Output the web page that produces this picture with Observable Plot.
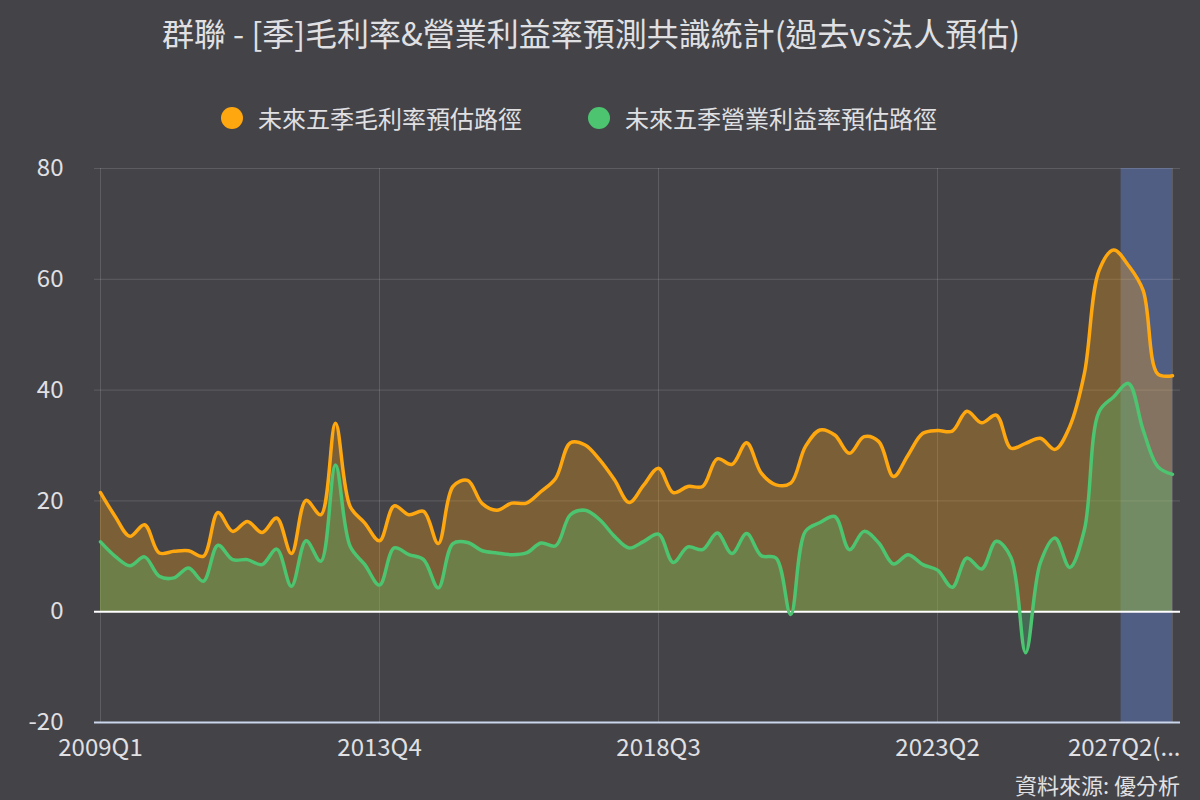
<!DOCTYPE html>
<html>
<head>
<meta charset="utf-8">
<script src="https://cdn.jsdelivr.net/npm/d3@7"></script>
<script src="https://cdn.jsdelivr.net/npm/@observablehq/plot@0.6"></script>
<style>
  html, body { margin: 0; padding: 0; }
  body { width: 1200px; height: 800px; background: #434348; position: relative; overflow: hidden;
         font-family: "Noto Sans CJK TC", "Noto Sans", sans-serif; color: #e0e0e3; }
  #title { position: absolute; top: 10px; left: 0; width: 1182px; text-align: center; font-size: 32px; line-height: 44px; }
  #legend { position: absolute; top: 100px; left: 221px; display: flex; align-items: center; font-size: 24px; line-height: 36px; }
  .item { display: flex; align-items: center; margin-right: 66px; }
  .dot { width: 22px; height: 22px; border-radius: 50%; margin-right: 15px; }
  #chart { position: absolute; top: 140px; left: 0; }
  #caption { position: absolute; top: 769px; right: 20px; font-size: 22px; line-height: 30px; }
</style>
</head>
<body>
<div id="title">群聯 - [季]毛利率&amp;營業利益率預測共識統計(過去vs法人預估)</div>
<div id="legend"></div>
<div id="chart"></div>
<div id="caption">資料來源: 優分析</div>
<script>
const quarters = [
  "2009Q1","2009Q2","2009Q3","2009Q4","2010Q1","2010Q2","2010Q3","2010Q4",
  "2011Q1","2011Q2","2011Q3","2011Q4","2012Q1","2012Q2","2012Q3","2012Q4",
  "2013Q1","2013Q2","2013Q3","2013Q4","2014Q1","2014Q2","2014Q3","2014Q4",
  "2015Q1","2015Q2","2015Q3","2015Q4","2016Q1","2016Q2","2016Q3","2016Q4",
  "2017Q1","2017Q2","2017Q3","2017Q4","2018Q1","2018Q2","2018Q3","2018Q4",
  "2019Q1","2019Q2","2019Q3","2019Q4","2020Q1","2020Q2","2020Q3","2020Q4",
  "2021Q1","2021Q2","2021Q3","2021Q4","2022Q1","2022Q2","2022Q3","2022Q4",
  "2023Q1","2023Q2","2023Q3","2023Q4","2024Q1","2024Q2","2024Q3","2024Q4",
  "2025Q1","2025Q2","2025Q3","2025Q4","2026Q1","2026Q2","2026Q3","2026Q4",
  "2027Q1","2027Q2"
];
const grossMargin = [
  21.5,17.2,13.6,15.7,10.6,10.9,11.0,10.0,17.9,14.5,16.3,14.3,16.9,10.5,20.1,17.5,
  34.0,19.0,16.0,12.8,19.1,17.5,18.1,12.3,22.6,23.7,19.5,18.3,19.6,19.6,21.7,24.1,
  30.5,30.1,27.4,23.8,19.7,22.9,25.9,21.5,22.6,22.6,27.6,26.6,30.5,25.0,22.9,23.2,
  29.8,32.8,31.9,28.6,31.6,30.7,24.4,28.3,32.2,32.7,32.6,36.2,34.1,35.5,29.5,30.4,
  31.3,29.3,33.4,43.0,61.6,65.3,62.5,58.0,42.9,42.6
];
const operatingMargin = [
  12.6,10.0,8.3,9.9,6.4,6.1,7.9,5.5,12.0,9.4,9.4,8.5,11.3,4.6,12.8,9.1,
  26.5,11.8,8.5,4.8,11.5,10.3,9.4,4.3,12.3,12.5,11.0,10.6,10.3,10.6,12.4,11.9,
  17.5,18.3,16.6,13.6,11.5,12.7,14.0,8.9,11.7,11.2,14.2,10.5,14.1,10.1,9.7,-0.5,
  14.5,16.1,17.2,11.2,14.5,12.4,8.6,10.3,8.5,7.5,4.4,9.7,7.7,12.7,9.8,-7.4,
  8.8,13.3,8.0,14.8,36.1,38.8,41.2,32.8,26.2,24.8
];
const xTickLabels = ["2009Q1","2013Q4","2018Q3","2023Q2"];
const lastTickLabel = "2027Q2(...";
const lastQuarter = "2027Q2";
const forecastBandStart = "2026Q2"; // band begins half a quarter after this
const yTicks = [-20, 0, 20, 40, 60, 80];
const seriesNames = ["未來五季毛利率預估路徑", "未來五季營業利益率預估路徑"];
const colors = ["#ffa70f", "#4cc470"];

const data = quarters.map((q, i) => ({i, q, gm: grossMargin[i], om: operatingMargin[i]}));
const idx = q => quarters.indexOf(q);
const xTicks = xTickLabels.map(idx);
const band = [{x1: idx(forecastBandStart) + 0.5, x2: idx(lastQuarter)}];

const legend = document.getElementById("legend");
seriesNames.forEach((n, k) => {
  const it = document.createElement("div");
  it.className = "item";
  it.innerHTML = `<span class="dot" style="background:${colors[k]}"></span><span>${n}</span>`;
  legend.appendChild(it);
});

const chart = Plot.plot({
  width: 1200,
  height: 622,
  marginTop: 28,
  marginBottom: 40,
  marginLeft: 94,
  marginRight: 20,
  style: {background: "transparent", color: "#e0e0e3", fontFamily: "'Noto Sans CJK TC', 'Noto Sans', sans-serif", fontSize: "24px"},
  x: {domain: [0, quarters.length - 1], insetLeft: 6, insetRight: 8},
  y: {domain: [-20, 80]},
  marks: [
    Plot.rect(band, {x1: "x1", x2: "x2", fill: "#515e84"}),
    Plot.ruleY([20, 40, 60, 80], {stroke: "#ffffff", strokeOpacity: 0.14}),
    Plot.ruleX([...xTicks, idx(lastQuarter)], {stroke: "#ffffff", strokeOpacity: 0.14}),
    Plot.areaY(data, {x: "i", y: "gm", fill: colors[0], fillOpacity: 0.3, curve: "catmull-rom"}),
    Plot.areaY(data, {x: "i", y: "om", fill: colors[1], fillOpacity: 0.3, curve: "catmull-rom"}),
    Plot.ruleY([0], {stroke: "#ffffff", strokeWidth: 2}),
    Plot.ruleY([-20], {stroke: "#ccd6eb", strokeWidth: 2}),
    Plot.lineY(data, {x: "i", y: "gm", stroke: colors[0], strokeWidth: 3.5, curve: "catmull-rom"}),
    Plot.lineY(data, {x: "i", y: "om", stroke: colors[1], strokeWidth: 3.5, curve: "catmull-rom"}),
    Plot.axisY({ticks: yTicks, tickFormat: d => String(d), tickSize: 0, tickPadding: 31, fontSize: 24, label: null}),
    Plot.axisX({ticks: xTicks, tickFormat: i => quarters[i], tickSize: 0, tickPadding: 16, fontSize: 24, label: null}),
    Plot.axisX({ticks: [idx(lastQuarter)], tickFormat: () => lastTickLabel, tickSize: 0, tickPadding: 16, fontSize: 24, textAnchor: "end", dx: 8, label: null})
  ]
});
document.getElementById("chart").appendChild(chart);
</script>
</body>
</html>
